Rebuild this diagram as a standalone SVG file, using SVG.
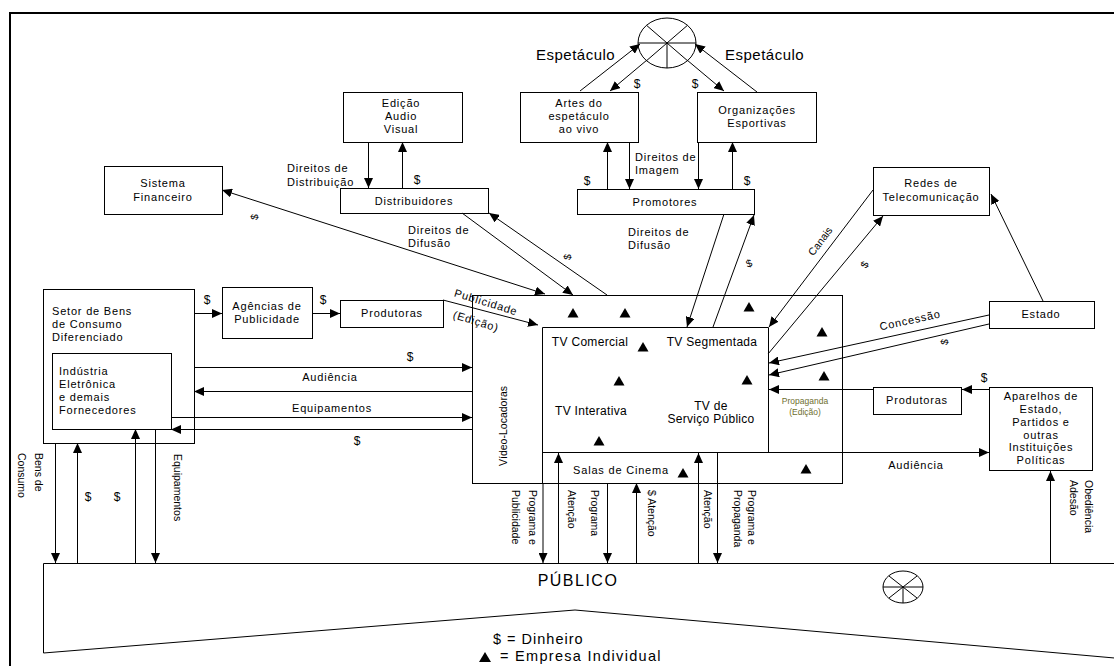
<svg xmlns="http://www.w3.org/2000/svg" width="1114" height="666" viewBox="0 0 1114 666">
<style>
.box{fill:#fff;stroke:#000;stroke-width:1}
.ln{stroke:#000;stroke-width:1;fill:none}
.ar{marker-end:url(#ah)}
.t{font-family:"Liberation Sans",Arial,sans-serif;font-size:11px;letter-spacing:0.8px;fill:#000}
.c{text-anchor:middle}
.v{font-size:10.5px;letter-spacing:0}
.d{font-size:12px;letter-spacing:0}
.tv{font-size:12px;letter-spacing:0.3px}
.big{font-size:15px;letter-spacing:0.5px}
.pr{font-size:8.5px;letter-spacing:0;fill:#6e6e2e}
</style>
<defs>
<marker id="ah" markerUnits="userSpaceOnUse" markerWidth="10" markerHeight="9" refX="10" refY="4.5" orient="auto"><path d="M0,0 L10,4.5 L0,9 z" fill="#000"/></marker>
<marker id="ahs" markerUnits="userSpaceOnUse" markerWidth="10" markerHeight="9" refX="10" refY="4.5" orient="auto-start-reverse"><path d="M0,0 L10,4.5 L0,9 z" fill="#000"/></marker>
<path id="tri" d="M-5.5,4.5 L0,-5 L5.5,4.5 z" fill="#000"/>
</defs>
<rect x="0" y="0" width="1114" height="666" fill="#fff"/>
<rect x="10" y="13" width="1120" height="670" fill="none" stroke="#000" stroke-width="2"/>

<g id="publico">
<path d="M1120,563.5 L43.5,563.5 L43.5,653 L575,610 L1120,658.5" class="ln"/>
<text x="578" y="586" class="t c" style="font-size:16px;letter-spacing:1.5px">PÚBLICO</text>
<g class="ln">
<ellipse cx="903" cy="587" rx="20" ry="16"/>
<line x1="883" y1="587" x2="923" y2="587"/>
<line x1="889" y1="576" x2="917" y2="598"/>
<line x1="917" y1="576" x2="889" y2="598"/>
<line x1="903" y1="587" x2="903" y2="603"/>
</g>
</g>

<g id="espetaculo">
<g class="ln">
<ellipse cx="667" cy="43" rx="29" ry="25" fill="#fff"/>
<line x1="638" y1="43" x2="696" y2="43"/>
<line x1="646.5" y1="25.3" x2="687.5" y2="60.7"/>
<line x1="687.5" y1="25.3" x2="646.5" y2="60.7"/>
<line x1="667" y1="43" x2="667" y2="68"/>
</g>
<text x="536" y="60" class="t big">Espetáculo</text>
<text x="725" y="60" class="t big">Espetáculo</text>
</g>

<g id="artes">
<rect x="520.5" y="92.5" width="118" height="50" class="box"/>
<text x="579" y="107" class="t c">Artes do</text>
<text x="579" y="120" class="t c">espetáculo</text>
<text x="579" y="133" class="t c">ao vivo</text>
</g>
<g id="organizacoes">
<rect x="697.5" y="92.5" width="119" height="50" class="box"/>
<text x="757" y="114" class="t c">Organizações</text>
<text x="757" y="127" class="t c">Esportivas</text>
</g>
<g id="edicao">
<rect x="343.5" y="92.5" width="119" height="50" class="box"/>
<text x="401" y="107" class="t c">Edição</text>
<text x="401" y="120" class="t c">Audio</text>
<text x="401" y="133" class="t c">Visual</text>
</g>
<g id="distribuidores">
<rect x="340.5" y="188.5" width="148" height="25" class="box"/>
<text x="414" y="205" class="t c">Distribuidores</text>
</g>
<g id="promotores">
<rect x="577.5" y="189.5" width="177" height="25" class="box"/>
<text x="665" y="206" class="t c">Promotores</text>
</g>
<g id="sistema">
<rect x="104.5" y="166.5" width="118" height="48" class="box"/>
<text x="163" y="187" class="t c">Sistema</text>
<text x="163" y="201" class="t c">Financeiro</text>
</g>
<g id="redes">
<rect x="873.5" y="167.5" width="116" height="48" class="box"/>
<text x="931" y="187" class="t c">Redes de</text>
<text x="931" y="201" class="t c">Telecomunicação</text>
</g>
<g id="estado">
<rect x="989.5" y="301.5" width="105" height="27" class="box"/>
<text x="1041" y="318" class="t c">Estado</text>
</g>
<g id="produtoras-dir">
<rect x="873.5" y="387.5" width="88" height="27" class="box"/>
<text x="917" y="404" class="t c">Produtoras</text>
</g>
<g id="aparelhos">
<rect x="989.5" y="387.5" width="103" height="83" class="box"/>
<text x="1041" y="400" class="t c">Aparelhos de</text>
<text x="1041" y="413" class="t c">Estado,</text>
<text x="1041" y="426" class="t c">Partidos e</text>
<text x="1041" y="439" class="t c">outras</text>
<text x="1041" y="451" class="t c">Instituições</text>
<text x="1041" y="464" class="t c">Políticas</text>
</g>
<g id="setor">
<rect x="43.5" y="289.5" width="151" height="154" class="box"/>
<text x="52" y="315" class="t">Setor de Bens</text>
<text x="52" y="328" class="t">de Consumo</text>
<text x="52" y="341" class="t">Diferenciado</text>
</g>
<g id="industria">
<rect x="52.5" y="353.5" width="119" height="76" class="box"/>
<text x="59" y="375" class="t">Indústria</text>
<text x="59" y="388" class="t">Eletrônica</text>
<text x="59" y="401" class="t">e demais</text>
<text x="59" y="414" class="t">Fornecedores</text>
</g>
<g id="agencias">
<rect x="222.5" y="287.5" width="90" height="51" class="box"/>
<text x="267" y="310" class="t c">Agências de</text>
<text x="267" y="323" class="t c">Publicidade</text>
</g>
<g id="produtoras-esq">
<rect x="340.5" y="300.5" width="103" height="27" class="box"/>
<text x="392" y="317" class="t c">Produtoras</text>
</g>

<g id="tv">
<rect x="472.5" y="295.5" width="370" height="188" class="box"/>
<path d="M542.5,483 L542.5,327.5 L768.5,327.5 L768.5,452.5 L542.5,452.5 M717.5,452.5 L717.5,483" class="ln"/>
<text transform="translate(507,426) rotate(-90)" class="t c v">Vídeo-Locadoras</text>
<text x="590" y="346" class="t c tv">TV Comercial</text>
<text x="712" y="346" class="t c tv">TV Segmentada</text>
<text x="591" y="415" class="t c tv">TV Interativa</text>
<text x="711" y="410" class="t c tv">TV de</text>
<text x="711" y="423" class="t c tv">Serviço Público</text>
<text x="621" y="474" class="t c">Salas de Cinema</text>
<text x="805" y="404" class="t c pr">Propaganda</text>
<text x="805" y="415" class="t c pr">(Edição)</text>
<use href="#tri" x="573" y="313"/>
<use href="#tri" x="625" y="313"/>
<use href="#tri" x="749" y="307"/>
<use href="#tri" x="643" y="347"/>
<use href="#tri" x="619" y="381"/>
<use href="#tri" x="747" y="380"/>
<use href="#tri" x="599" y="441"/>
<use href="#tri" x="822" y="332"/>
<use href="#tri" x="824" y="376"/>
<use href="#tri" x="683" y="473"/>
<use href="#tri" x="806" y="469"/>
</g>

<g id="connectors" class="ln">
<line x1="580" y1="91" x2="640" y2="44" class="ar"/>
<line x1="647" y1="60" x2="610" y2="91" class="ar"/>
<line x1="687" y1="60" x2="724" y2="91" class="ar"/>
<line x1="757" y1="92" x2="695" y2="44" class="ar"/>
<line x1="368.5" y1="142" x2="368.5" y2="188" class="ar"/>
<line x1="402.5" y1="188" x2="402.5" y2="142" class="ar"/>
<line x1="607.5" y1="189" x2="607.5" y2="142" class="ar"/>
<line x1="629.5" y1="142" x2="629.5" y2="189" class="ar"/>
<line x1="698.5" y1="142" x2="698.5" y2="189" class="ar"/>
<line x1="732.5" y1="189" x2="732.5" y2="142" class="ar"/>
<line x1="222" y1="190" x2="545" y2="294" style="marker-start:url(#ahs);marker-end:url(#ah)"/>
<line x1="462" y1="213" x2="573" y2="295" class="ar"/>
<line x1="607" y1="295" x2="489" y2="213" class="ar"/>
<line x1="724" y1="214" x2="687" y2="327" class="ar"/>
<line x1="713" y1="327" x2="754" y2="215" class="ar"/>
<line x1="873" y1="190" x2="769" y2="327" class="ar"/>
<line x1="768" y1="354" x2="883" y2="216" class="ar"/>
<line x1="1043" y1="301" x2="991" y2="194" class="ar"/>
<line x1="989" y1="315" x2="769" y2="363" class="ar"/>
<line x1="989" y1="324" x2="769" y2="375" class="ar"/>
<line x1="873" y1="389.5" x2="769" y2="389.5" class="ar"/>
<line x1="989" y1="389.5" x2="962" y2="389.5" class="ar"/>
<line x1="768" y1="452.5" x2="989" y2="452.5" class="ar"/>
<line x1="194" y1="313.5" x2="222" y2="313.5" class="ar"/>
<line x1="312" y1="313.5" x2="340" y2="313.5" class="ar"/>
<line x1="443" y1="300" x2="538" y2="325" class="ar"/>
<line x1="194" y1="367.5" x2="472" y2="367.5" class="ar"/>
<line x1="472" y1="391.5" x2="194" y2="391.5" class="ar"/>
<line x1="171" y1="417.5" x2="472" y2="417.5" class="ar"/>
<line x1="472" y1="429.5" x2="171" y2="429.5" class="ar"/>
<line x1="55.5" y1="443" x2="55.5" y2="563" class="ar"/>
<line x1="77.5" y1="563" x2="77.5" y2="443" class="ar"/>
<line x1="135.5" y1="563" x2="135.5" y2="429" class="ar"/>
<line x1="155.5" y1="429" x2="155.5" y2="563" class="ar"/>
<line x1="543" y1="483" x2="543" y2="563" class="ar"/>
<line x1="558.5" y1="563" x2="558.5" y2="453" class="ar"/>
<line x1="607.5" y1="483" x2="607.5" y2="563" class="ar"/>
<line x1="636.5" y1="563" x2="636.5" y2="483" class="ar"/>
<line x1="698.5" y1="563" x2="698.5" y2="453" class="ar"/>
<line x1="717.5" y1="483" x2="717.5" y2="563" class="ar"/>
<line x1="1050.5" y1="563" x2="1050.5" y2="471" class="ar"/>
</g>

<g id="labels">
<text x="637" y="88" class="t c d">$</text>
<text x="695" y="88" class="t c d">$</text>
<text x="287" y="172" class="t">Direitos de</text>
<text x="287" y="186" class="t">Distribuição</text>
<text x="417" y="184" class="t c d">$</text>
<text x="635" y="161" class="t">Direitos de</text>
<text x="635" y="174" class="t">Imagem</text>
<text x="587" y="185" class="t c d">$</text>
<text x="747" y="185" class="t c d">$</text>
<text x="408" y="234" class="t">Direitos de</text>
<text x="408" y="247" class="t">Difusão</text>
<text x="628" y="236" class="t">Direitos de</text>
<text x="628" y="249" class="t">Difusão</text>
<text transform="translate(255,217) rotate(-80)" x="0" y="3" class="t c v">$</text>
<text transform="translate(568,257) rotate(-80)" x="0" y="3" class="t c v">$</text>
<text transform="translate(749,263) rotate(-20)" x="0" y="4" class="t c v">$</text>
<text transform="translate(865,265) rotate(-60)" x="0" y="3" class="t c v">$</text>
<text transform="translate(945,342) rotate(-80)" x="0" y="3" class="t c v">$</text>
<text transform="translate(820,241) rotate(-53)" x="0" y="4" class="t c v">Canais</text>
<text transform="translate(910,320) rotate(-12.4)" x="0" y="4" class="t c">Concessão</text>
<text transform="translate(486,302) rotate(17)" x="0" y="4" class="t c">Publicidade</text>
<text transform="translate(476,321) rotate(17)" x="0" y="4" class="t c">(Edição)</text>
<text x="207" y="304" class="t c d">$</text>
<text x="323" y="304" class="t c d">$</text>
<text x="410" y="361" class="t c d">$</text>
<text x="330" y="381" class="t c">Audiência</text>
<text x="332" y="412" class="t c">Equipamentos</text>
<text x="357" y="445" class="t c d">$</text>
<text x="88" y="501" class="t c d">$</text>
<text x="117" y="501" class="t c d">$</text>
<text x="984" y="382" class="t c d">$</text>
<text x="916" y="469" class="t c">Audiência</text>
<text transform="translate(34.5,453) rotate(90)" class="t v">Bens de</text>
<text transform="translate(17.5,453) rotate(90)" class="t v">Consumo</text>
<text transform="translate(173.5,454) rotate(90)" class="t v">Equipamentos</text>
<text transform="translate(528.5,490) rotate(90)" class="t v">Programa e</text>
<text transform="translate(511.5,490) rotate(90)" class="t v">Publicidade</text>
<text transform="translate(567.5,490) rotate(90)" class="t v">Atenção</text>
<text transform="translate(590.5,490) rotate(90)" class="t v">Programa</text>
<text transform="translate(647.5,490) rotate(90)" class="t v">$ Atenção</text>
<text transform="translate(703.5,490) rotate(90)" class="t v">Atenção</text>
<text transform="translate(748,490) rotate(90)" class="t v">Programa e</text>
<text transform="translate(734,490) rotate(90)" class="t v">Propaganda</text>
<text transform="translate(1085,480) rotate(90)" class="t v">Obediência</text>
<text transform="translate(1070,480) rotate(90)" class="t v">Adesão</text>
</g>

<g id="legenda">
<text x="493" y="644" class="t" style="font-size:14.5px;letter-spacing:1px">$ = Dinheiro</text>
<path d="M479,662 L485,652 L491,662 z" fill="#000"/>
<text x="500" y="661" class="t" style="font-size:14.5px;letter-spacing:1.3px">= Empresa Individual</text>
</g>
</svg>
